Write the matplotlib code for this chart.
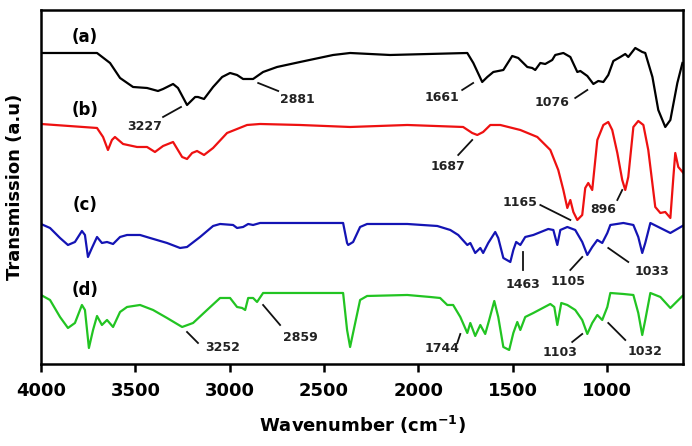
import numpy as np
import matplotlib.pyplot as plt

# FTIR spectra, wavenumber (cm-1) and transmission (a.u., offset traces)
wn_a = [4000, 3703, 3634, 3581, 3512, 3438, 3380, 3353, 3300, 3274, 3226, 3183, 3168, 3136,
        3088, 3040, 2998, 2961, 2929, 2876, 2823, 2749, 2627, 2452, 2362, 2150, 1741, 1709,
        1662, 1635, 1603, 1550, 1503, 1471, 1423, 1397, 1381, 1354, 1328, 1291, 1275, 1232,
        1195, 1158, 1142, 1105, 1073, 1047, 1020, 994, 967, 930, 904, 888, 851, 814, 798,
        760, 729, 692, 665, 628, 601]
t_a = [311, 311, 301, 286, 277, 276, 273, 275, 280, 276, 259, 267, 267, 265,
       277, 287, 291, 289, 285, 285, 292, 297, 302, 309, 311, 309, 311, 301,
       282, 287, 292, 294, 308, 306, 297, 296, 294, 301, 300, 304, 309, 311,
       307, 292, 293, 288, 280, 283, 282, 289, 303, 307, 310, 307, 316, 312, 311,
       287, 254, 237, 244, 281, 301]

wn_b = [4000, 3703, 3671, 3645, 3624, 3608, 3565, 3491, 3438, 3396, 3353, 3300, 3252, 3226,
        3199, 3173, 3136, 3088, 3014, 2908, 2839, 2627, 2362, 2059, 1763, 1715, 1688, 1657,
        1619, 1566, 1460, 1370, 1301, 1259, 1232, 1211, 1195, 1179, 1158, 1132, 1116, 1100,
        1079, 1052, 1020, 994, 973, 946, 920, 904, 888, 861, 835, 808, 782, 745, 718, 692,
        665, 649, 639, 623, 596]
t_b = [240, 236, 227, 214, 224, 227, 220, 217, 217, 212, 218, 222, 207, 205,
       211, 213, 209, 216, 231, 239, 240, 239, 237, 239, 237, 231, 229, 232,
       239, 239, 234, 227, 214, 194, 174, 156, 164, 152, 144, 149, 176, 181,
       174, 224, 239, 242, 234, 211, 184, 174, 187, 237, 243, 239, 214, 157, 151, 152,
       146, 187, 211, 197, 191]

wn_c = [4000, 3952, 3899, 3857, 3820, 3783, 3767, 3751, 3730, 3703, 3677, 3650, 3618, 3581,
        3544, 3475, 3422, 3332, 3263, 3226, 3157, 3088, 3051, 2982, 2961, 2929, 2902, 2876,
        2839, 2399, 2378, 2372, 2346, 2309, 2272, 2059, 1900, 1831, 1789, 1741, 1725, 1699,
        1672, 1657, 1630, 1593, 1577, 1550, 1513, 1497, 1482, 1460, 1434, 1391, 1312, 1285,
        1264, 1248, 1211, 1169, 1132, 1105, 1079, 1052, 1026, 999, 983, 914, 861, 835, 814,
        798, 771, 718, 665, 601]
t_c = [140, 136, 126, 119, 122, 133, 129, 107, 116, 127, 121, 122, 120, 127,
       129, 129, 126, 121, 116, 117, 127, 138, 140, 139, 136, 137, 140, 139,
       141, 141, 121, 119, 122, 137, 140, 140, 138, 134, 129, 119, 121, 111,
       116, 111, 121, 132, 126, 106, 102, 114, 122, 119, 127, 129, 135, 134,
       119, 134, 137, 134, 122, 109, 117, 124, 121, 131, 139, 141, 139, 127, 111,
       121, 141, 136, 131, 138]

wn_d = [4000, 3952, 3899, 3857, 3820, 3783, 3767, 3746, 3724, 3703, 3677, 3650, 3618, 3581,
        3544, 3475, 3406, 3332, 3252, 3194, 3120, 3051, 2998, 2961, 2934, 2918, 2902, 2876,
        2855, 2823, 2399, 2378, 2362, 2335, 2309, 2272, 2059, 1938, 1885, 1847, 1816, 1778,
        1741, 1725, 1699, 1672, 1646, 1625, 1598, 1577, 1550, 1519, 1497, 1476, 1460, 1434,
        1391, 1301, 1280, 1264, 1243, 1211, 1169, 1132, 1105, 1079, 1052, 1026, 999, 983,
        914, 861, 835, 814, 798, 771, 718, 665, 601]
t_d = [69, 64, 47, 36, 41, 59, 54, 16, 34, 48, 39, 44, 37, 52,
       57, 59, 54, 46, 37, 41, 54, 66, 66, 57, 56, 54, 66, 66,
       62, 71, 71, 34, 17, 41, 64, 68, 69, 67, 66, 59, 59, 47,
       31, 41, 28, 39, 30, 44, 63, 47, 17, 14, 31, 42, 34, 47,
       51, 60, 57, 39, 61, 59, 54, 44, 30, 41, 49, 44, 57, 71,
       70, 69, 51, 29, 44, 71, 67, 56, 68]

series = [(wn_a, t_a, '#000000', '(a)', 327),
          (wn_b, t_b, '#ee1111', '(b)', 254),
          (wn_c, t_c, '#1414b4', '(c)', 159),
          (wn_d, t_d, '#22c422', '(d)', 74)]

# peak labels: text, text position, leader line start/end
peaks = [('3227', 3449, 237, 3353, 247, 3258, 257),
         ('2881', 2643, 264, 2849, 281, 2743, 273),
         ('1661', 1874, 266, 1768, 274, 1710, 281),
         ('1076', 1291, 261, 1169, 266, 1105, 274),
         ('1687', 1842, 197, 1789, 209, 1715, 224),
         ('1165', 1460, 161, 1354, 159, 1195, 144),
         ('896', 1020, 154, 946, 164, 920, 174),
         ('1463', 1444, 79, 1444, 112, 1444, 94),
         ('1105', 1206, 82, 1195, 94, 1132, 107),
         ('1033', 761, 92, 994, 116, 888, 102),
         ('1744', 1874, 15, 1794, 21, 1778, 30),
         ('1103', 1248, 11, 1185, 22, 1132, 30),
         ('1032', 798, 12, 994, 41, 904, 24),
         ('3252', 3040, 16, 3226, 32, 3168, 21),
         ('2859', 2627, 26, 2823, 59, 2733, 39)]

fig = plt.figure(figsize=(6.92, 4.46), dpi=100)
ax = fig.add_axes([0.0592, 0.1839, 0.9278, 0.7937])

for wn, t, col, lab, ly in series:
    ax.plot(wn, t, color=col, lw=1.6, solid_joinstyle='round')
    ax.text(3767, ly, lab, fontsize=12, fontweight='bold', ha='center', va='center')

for lab, tx, ty, x1, y1, x2, y2 in peaks:
    ax.plot([x1, x2], [y1, y2], color='#111111', lw=1.3)
    ax.text(tx, ty, lab, fontsize=9, fontweight='bold', color='#222222',
            ha='center', va='center')

ax.set_xlim(4000, 598)
ax.set_ylim(0, 354)
ax.set_xticks([4000, 3500, 3000, 2500, 2000, 1500, 1000])
ax.set_yticks([])
for s in ax.spines.values():
    s.set_linewidth(1.8)
ax.tick_params(axis='x', direction='out', length=6, width=1.8, labelsize=13, pad=7)
for lbl in ax.get_xticklabels():
    lbl.set_fontweight('bold')
ax.set_xlabel('Wavenumber (cm$^{\\mathbf{-1}}$)', fontsize=13, fontweight='bold', labelpad=10)
ax.set_ylabel('Transmission (a.u)', fontsize=13, fontweight='bold', labelpad=12)

plt.savefig('out.png', dpi=100)
